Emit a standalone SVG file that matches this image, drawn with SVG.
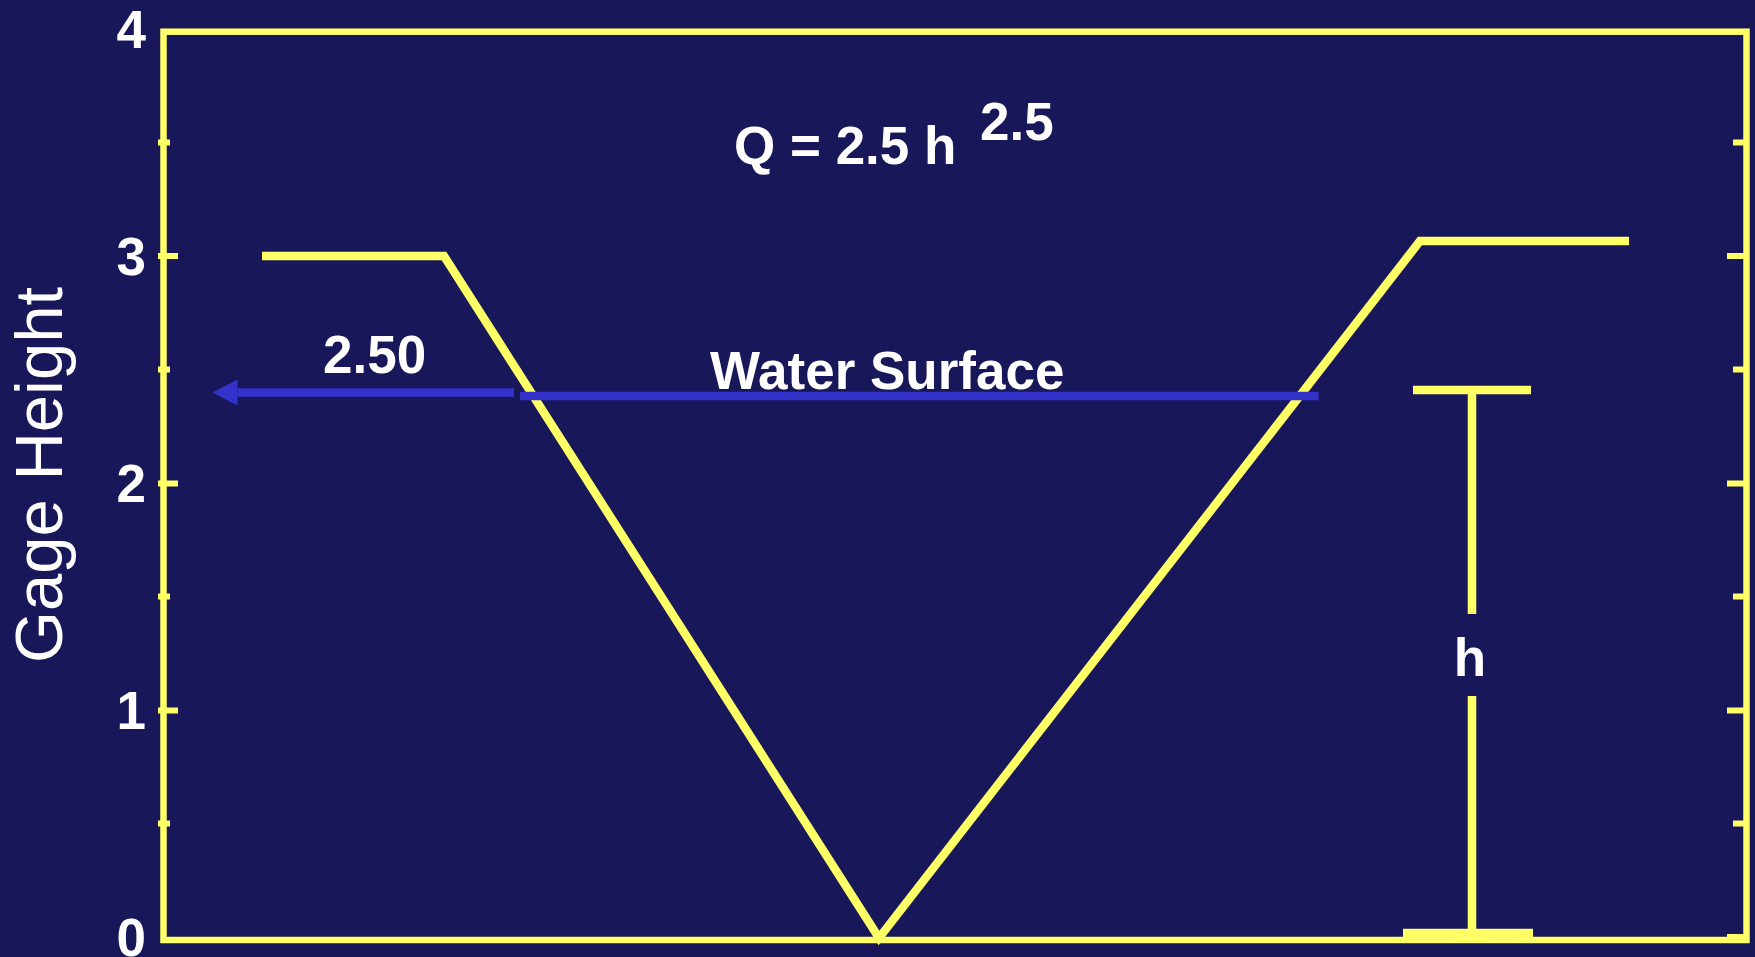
<svg xmlns="http://www.w3.org/2000/svg" width="1755" height="957" viewBox="0 0 1755 957">
  <style>
    .frame { fill: none; stroke: #FFFF66; stroke-width: 6.5; }
    .tick { stroke: #FFFF66; stroke-width: 6; fill: none; }
    .ytick { stroke: #FFFF66; stroke-width: 8.5; fill: none; stroke-linejoin: miter; }
    .blue { stroke: #3333CC; stroke-width: 8.5; fill: none; }
    .lbl { font-family: "Liberation Sans", Arial, sans-serif; font-weight: bold; font-size: 53px; fill: #FFFFFF; }
    .axis { font-family: "Liberation Sans", Arial, sans-serif; font-size: 67px; fill: #FFFFFF; }
  </style>
  <defs>
    <marker id="head" viewBox="0 0 25 26" refX="0" refY="13" markerWidth="25" markerHeight="26" markerUnits="userSpaceOnUse" orient="auto">
      <path d="M0,0 L25,13 L0,26 Z" fill="#3333CC"/>
    </marker>
  </defs>
  <rect x="0" y="0" width="1755" height="957" fill="#171759"/>

  <g id="frame">
    <rect class="frame" x="163.5" y="31.7" width="1583" height="908.3"/>
    <path class="tick" d="M158,256 H178 M158,483.5 H178 M158,710.5 H178 M158,142.5 H170 M158,369.5 H170 M158,596.5 H170 M158,823.5 H170"/>
    <path class="tick" d="M1727,256 H1746 M1727,483.5 H1746 M1727,710.5 H1746 M1727,937 H1746 M1733,142.5 H1746 M1733,369.5 H1746 M1733,596.5 H1746 M1733,823.5 H1746"/>
  </g>

  <g id="y-labels">
    <text class="lbl" x="146" y="47.5" text-anchor="end">4</text>
    <text class="lbl" x="146" y="274.5" text-anchor="end">3</text>
    <text class="lbl" x="146" y="502" text-anchor="end">2</text>
    <text class="lbl" x="146" y="728.5" text-anchor="end">1</text>
    <text class="lbl" x="146" y="956" text-anchor="end">0</text>
  </g>

  <g id="axis-title">
    <text class="axis" transform="translate(62,475) rotate(-90)" text-anchor="middle">Gage Height</text>
  </g>

  <g id="equation">
    <text class="lbl" x="734" y="163.5">Q = 2.5 h</text>
    <text class="lbl" x="980" y="140">2.5</text>
  </g>

  <g id="channel">
    <polyline class="ytick" points="262,256 444,256 879,938 1420,241 1629,241"/>
  </g>

  <g id="water-surface">
    <line class="blue" x1="520" y1="396" x2="1318.5" y2="396"/>
    <text class="lbl" x="710" y="388.5">Water Surface</text>
  </g>

  <g id="gage-reading">
    <text class="lbl" x="323" y="373">2.50</text>
  </g>

  <g id="h-marker">
    <line class="ytick" x1="1413" y1="390" x2="1531" y2="390"/>
    <line class="ytick" x1="1472" y1="390" x2="1472" y2="614"/>
    <line class="ytick" x1="1472" y1="696" x2="1472" y2="933"/>
    <line class="ytick" x1="1403" y1="933" x2="1533" y2="933"/>
    <text class="lbl" x="1470" y="676" text-anchor="middle">h</text>
  </g>

  <g id="connectors">
    <line class="blue" x1="514" y1="392.5" x2="237.5" y2="392.5" stroke-width="8" marker-end="url(#head)"/>
  </g>
</svg>
